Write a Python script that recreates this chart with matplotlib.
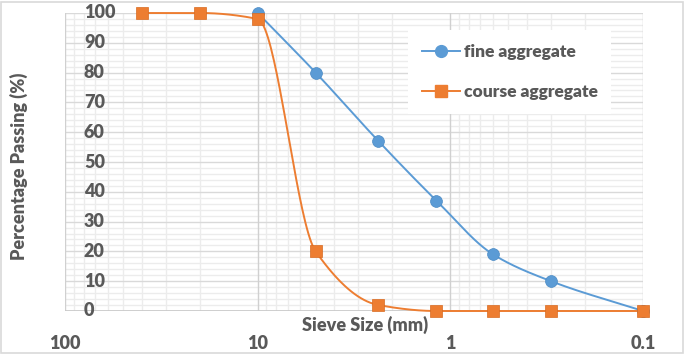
#sieve analysis - percentage passing vs sieve size (log scale, reversed)
import numpy as np
import matplotlib.pyplot as plt
from matplotlib.lines import Line2D
import matplotlib.transforms as mtransforms

#data
fine_size=[10,5,2.36,1.18,0.6,0.3,0.1]
fine_pass=[100,80,57,37,19,10,0]
coarse_size=[40,20,10,5,2.36,1.18,0.6,0.3,0.1]
coarse_pass=[100,100,98,20,2,0,0,0,0]
y_ticks=[0,10,20,30,40,50,60,70,80,90,100]
x_ticks=[100,10,1,0.1]
x_tick_labels=['100','10','1','0.1']

blue='#5B9BD5'
orange='#ED7D31'
txt='#595959'
wt='heavy'

plt.rcParams['font.family']=['Lato','DejaVu Sans']
plt.rcParams['font.weight']=wt

W,H=685,354
fig=plt.figure(figsize=(W/100,H/100),dpi=100)
L,R,T,B=65,643,13,311
ax=fig.add_axes([L/W,1-B/H,(R-L)/W,(B-T)/H])
ax.set_xscale('log')
ax.set_xlim(100,0.1)
ax.set_ylim(0,100)

#smooth curve (monotone cubic) in pixel space
px_per_dec=(R-L)/3.0
px_per_pct=(B-T)/100.0
def smooth(xs,ys,n=40):
    u=(2-np.log10(np.array(xs,float)))*px_per_dec
    v=np.array(ys,float)*px_per_pct
    h=np.diff(u)
    d=np.diff(v)/h
    m=np.zeros(len(u))
    m[0]=d[0];m[-1]=d[-1]
    for i in range(1,len(u)-1):
        if d[i-1]*d[i]<=0:
            m[i]=0
        else:
            w1=2*h[i]+h[i-1];w2=h[i]+2*h[i-1]
            m[i]=(w1+w2)/(w1/d[i-1]+w2/d[i])
    U=[];V=[]
    for i in range(len(u)-1):
        t=np.linspace(0,1,n)
        h00=2*t**3-3*t**2+1;h10=t**3-2*t**2+t
        h01=-2*t**3+3*t**2;h11=t**3-t**2
        U.append(u[i]+t*h[i])
        V.append(h00*v[i]+h10*h[i]*m[i]+h01*v[i+1]+h11*h[i]*m[i+1])
    U=np.concatenate(U);V=np.concatenate(V)
    return 10**(2-U/px_per_dec),V/px_per_pct

#grid
minor_x=[m*10.0**e for e in (-1,0,1) for m in range(2,10)]
for xv in minor_x:
    ax.axvline(xv,color='#ececec',lw=1.0,zorder=0)
for yv in range(0,101,2):
    if yv%10:
        ax.axhline(yv,color='#ececec',lw=1.0,zorder=0)
for yv in y_ticks:
    ax.axhline(yv,color='#d9d9d9',lw=1.0,zorder=0.5)
for xv in x_ticks:
    ax.axvline(xv,color='#d0d0d0',lw=1.0,zorder=0.5)
for s in ax.spines.values():
    s.set_visible(False)
ax.axhline(0,color='#c8c8c8',lw=1.2,zorder=0.6)

sx,sy=smooth(coarse_size,coarse_pass)
ax.plot(sx,sy,color=orange,lw=1.4,zorder=2,clip_on=False)
ax.plot(coarse_size,coarse_pass,'s',color=orange,ms=8.5,zorder=3,clip_on=False,
        markeredgecolor='#d86a20',markeredgewidth=0.5)
sx,sy=smooth(fine_size,fine_pass)
ax.plot(sx,sy,color=blue,lw=1.4,zorder=2,clip_on=False)
ax.plot(fine_size,fine_pass,'o',color=blue,ms=8.5,zorder=2.5,clip_on=False,
        markeredgecolor='#4a8ac4',markeredgewidth=0.5)

#ticks
ax.set_xticks(x_ticks)
ax.set_xticklabels(x_tick_labels,fontweight=wt)
ax.xaxis.set_minor_locator(plt.NullLocator())
ax.tick_params(axis='x',length=0,pad=17,labelsize=13,labelcolor=txt)
ax.set_yticks([])
#y labels sit inside the plot, left aligned 20 px from the edge
off=mtransforms.ScaledTranslation(19/100,0,fig.dpi_scale_trans)
for yv in y_ticks:
    ax.text(0,yv,str(yv),transform=ax.get_yaxis_transform()+off,ha='left',va='center',
            fontsize=13,fontweight=wt,color=txt)

fig.text(365/W,1-325/H,'Sieve Size (mm)',ha='center',va='center',fontsize=13,color=txt,fontweight=wt)
fig.text(19/W,1-166/H,'Percentage Passing (%)',ha='center',va='center',rotation=90,fontsize=13,color=txt,fontweight=wt)

handles=[Line2D([],[],color=blue,lw=1.4,marker='o',ms=8.5),
         Line2D([],[],color=orange,lw=1.4,marker='s',ms=8.5)]
leg=ax.legend(handles,['fine aggregate','course aggregate'],loc='upper left',
              bbox_to_anchor=((408-L)/(R-L),1-(30-T)/(B-T)),frameon=True,fancybox=False,
              framealpha=1,edgecolor='none',facecolor='white',
              prop={'size':12.5,'weight':wt},
              labelspacing=1.4,handlelength=2.2,handletextpad=0.2,borderpad=0.8,borderaxespad=0)
for t in leg.get_texts():
    t.set_color(txt)
leg.set_zorder(5)

#border around figure
fig.patches.append(plt.Rectangle((1/W,1/H),(W-3)/W,(H-3)/H,transform=fig.transFigure,
                                 fill=False,edgecolor='#d9d9d9',lw=1.2))
fig.savefig('out.png',dpi=100)
